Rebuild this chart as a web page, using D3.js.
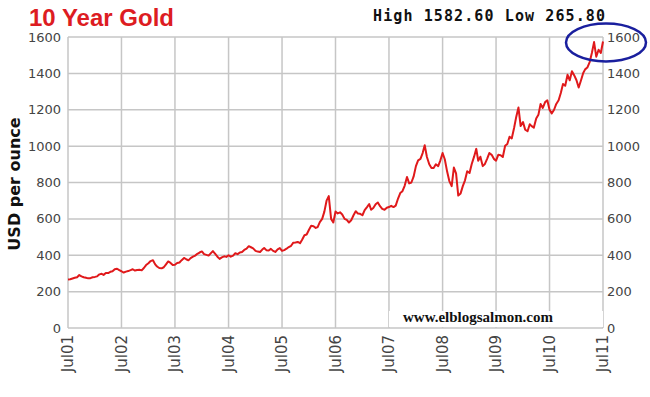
<!DOCTYPE html>
<html>
<head>
<meta charset="utf-8">
<script src="https://cdn.jsdelivr.net/npm/d3@7"></script>
<style>
  body { margin: 0; background: #fff; }
</style>
</head>
<body>
<div id="chart-area"></div>
<script>
let width = 650,
    height = 397;

// gold price, two readings per month (1st and 16th), Jul 2001 .. Jul 2011
let prices2001 = [267,268, 272,276, 279,291, 284,279, 276,273, 274,279];
let prices2002 = [281,284, 295,298, 292,302, 302,309, 312,323, 326,318, 312,305, 310,313, 318,323, 316,319, 320,317, 330,346];
let prices2003 = [356,368, 373,350, 338,330, 328,334, 350,366, 358,347, 348,357, 360,373, 385,378, 372,384, 392,398, 408,415];
let prices2004 = [421,406, 402,398, 410,423, 408,392, 380,388, 394,391, 400,392, 398,411, 406,415, 418,429, 436,450, 444,438];
let prices2005 = [424,420, 418,431, 440,428, 426,435, 424,418, 432,439, 424,428, 436,445, 452,469, 470,473, 466,487, 510,514];
let prices2006 = [540,562, 560,550, 555,582, 600,640, 700,725, 600,580, 640,630, 636,624, 600,594, 580,592, 620,642, 630,628];
let prices2007 = [620,648, 665,682, 650,660, 680,690, 670,655, 650,661, 665,672, 665,673, 712,742, 752,782, 830,795, 800,832];
let prices2008 = [890,922, 930,962, 1005,940, 900,880, 880,900, 890,922, 962,928, 860,808, 780,882, 850,728, 740,780, 812,862];
let prices2009 = [852,902, 942,985, 920,942, 890,902, 930,962, 952,930, 920,952, 950,940, 1002,1012, 1052,1042, 1100,1162, 1212,1110];
let prices2010 = [1132,1090, 1082,1120, 1110,1102, 1152,1172, 1232,1210, 1242,1252, 1200,1180, 1200,1232, 1252,1292, 1342,1332, 1392,1362, 1412,1390];
let prices2011 = [1362,1322, 1362,1402, 1422,1432, 1462,1512, 1572,1492, 1530,1512, 1575];

let yTicks = [0, 200, 400, 600, 800, 1000, 1200, 1400, 1600];
let xTickLabels = ["Jul01","Jul02","Jul03","Jul04","Jul05","Jul06","Jul07","Jul08","Jul09","Jul10","Jul11"];

let title = "10 Year Gold";
let highLow = "High 1582.60 Low 265.80";
let yTitle = "USD per ounce";
let watermark = "www.elblogsalmon.com";

let allPrices = [].concat(prices2001, prices2002, prices2003, prices2004, prices2005,
    prices2006, prices2007, prices2008, prices2009, prices2010, prices2011);

// turn index into a date: month offset from Jul 2001, 1st or 16th
let series = allPrices.map(function(v, i){
    return { date: new Date(2001, 6 + Math.floor(i / 2), i % 2 ? 16 : 1), value: v };
});

let tickDates = xTickLabels.map(function(d, i){ return new Date(2001 + i, 6, 1); });

let plotLeft = 68, plotRight = 603, plotTop = 37, plotBottom = 328;

let svg = d3.select("#chart-area")
    .append("svg")
    .attr("width", width)
    .attr("height", height);

let x = d3.scaleTime()
    .domain([tickDates[0], tickDates[tickDates.length - 1]])
    .range([plotLeft, plotRight]);

let y = d3.scaleLinear()
    .domain([0, 1600])
    .range([plotBottom, plotTop]);

//grid
svg.append("g").selectAll("line")
    .data(yTicks)
    .enter().append("line")
    .attr("x1", plotLeft).attr("x2", plotRight)
    .attr("y1", d => y(d)).attr("y2", d => y(d))
    .style("stroke", "#c6c6c6")
    .style("stroke-width", 1.5);

svg.append("g").selectAll("line")
    .data(tickDates)
    .enter().append("line")
    .attr("x1", d => x(d)).attr("x2", d => x(d))
    .attr("y1", plotTop).attr("y2", plotBottom)
    .style("stroke", "#c6c6c6")
    .style("stroke-width", 1.5);

//y labels both sides
svg.append("g").selectAll("text")
    .data(yTicks)
    .enter().append("text")
    .attr("x", plotLeft - 7)
    .attr("y", d => y(d))
    .attr("dy", "0.35em")
    .attr("text-anchor", "end")
    .style("font-family", "DejaVu Sans, Verdana, sans-serif")
    .style("font-size", "13px")
    .style("fill", "#444")
    .text(d => d);

svg.append("g").selectAll("text")
    .data(yTicks)
    .enter().append("text")
    .attr("x", plotRight + 4)
    .attr("y", d => y(d))
    .attr("dy", "0.35em")
    .style("font-family", "DejaVu Sans, Verdana, sans-serif")
    .style("font-size", "13px")
    .style("fill", "#444")
    .text(d => d);

//x labels, rotated
svg.append("g").selectAll("text")
    .data(tickDates)
    .enter().append("text")
    .attr("transform", d => "translate(" + x(d) + "," + (plotBottom + 7) + ") rotate(-90)")
    .attr("dy", "0.35em")
    .attr("text-anchor", "end")
    .style("font-family", "DejaVu Sans, Verdana, sans-serif")
    .style("font-size", "15px")
    .style("fill", "#444")
    .text((d, i) => xTickLabels[i]);

//watermark box
svg.append("rect")
    .attr("x", 389).attr("y", 311)
    .attr("width", plotRight - 389).attr("height", plotBottom - 312)
    .style("fill", "#fff");

svg.append("text")
    .attr("x", 403)
    .attr("y", 322)
    .style("font-family", "Liberation Serif, Times New Roman, serif")
    .style("font-weight", "bold")
    .style("font-size", "15px")
    .style("fill", "#111")
    .text(watermark);

//price line
let line = d3.line()
    .x(d => x(d.date))
    .y(d => y(d.value));

svg.append("path")
    .datum(series)
    .attr("d", line)
    .style("fill", "none")
    .style("stroke", "#e0191b")
    .style("stroke-width", 2)
    .style("stroke-linejoin", "round");

//titles
svg.append("text")
    .attr("x", 29)
    .attr("y", 26)
    .style("font-family", "Liberation Sans, Arial, sans-serif")
    .style("font-weight", "bold")
    .style("font-size", "24px")
    .style("fill", "#dd1c22")
    .text(title);

svg.append("text")
    .attr("x", 373)
    .attr("y", 21)
    .attr("textLength", 232)
    .style("font-family", "DejaVu Sans Mono, monospace")
    .style("font-weight", "bold")
    .style("font-size", "15px")
    .style("fill", "#111")
    .text(highLow);

svg.append("text")
    .attr("transform", "translate(20,184) rotate(-90)")
    .attr("text-anchor", "middle")
    .style("font-family", "DejaVu Sans, Verdana, sans-serif")
    .style("font-weight", "bold")
    .style("font-size", "16px")
    .style("fill", "#111")
    .text(yTitle);

//blue circle around the top
svg.append("ellipse")
    .attr("cx", 606).attr("cy", 42.5)
    .attr("rx", 40).attr("ry", 19)
    .style("fill", "none")
    .style("stroke", "#1a1f9e")
    .style("stroke-width", 2.5);
</script>
</body>
</html>
